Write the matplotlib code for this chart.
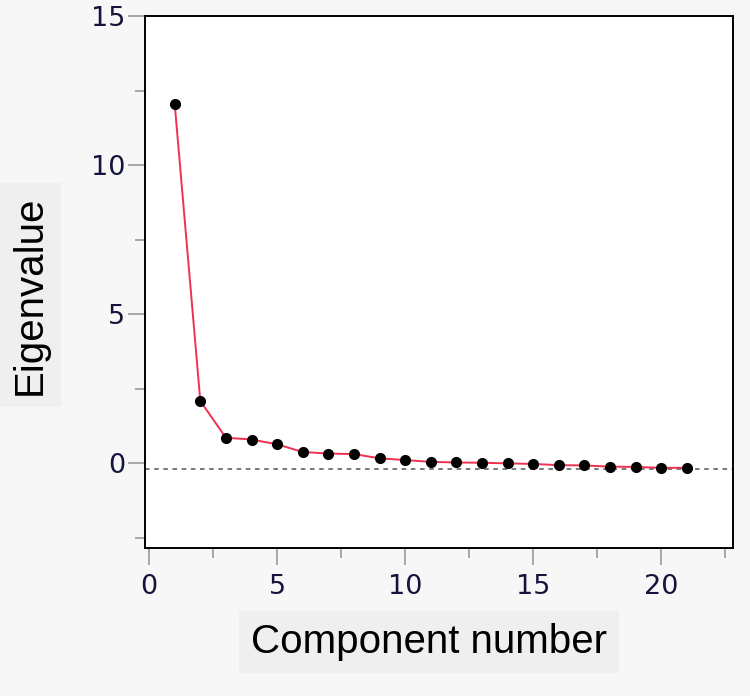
import matplotlib
matplotlib.use("Agg")
import matplotlib.pyplot as plt
from matplotlib.ticker import MultipleLocator

# scree plot values
component = list(range(1, 22))
eigenvalue = [12.05, 2.08, 0.85, 0.79, 0.63, 0.37, 0.32, 0.30, 0.16, 0.10,
              0.04, 0.02, 0.01, -0.01, -0.03, -0.07, -0.08, -0.12, -0.13, -0.16, -0.16]
ref_level = -0.2

BG = "#f7f7f7"
LABEL_BG = "#efefef"
TICK_TXT = "#14143c"

fig = plt.figure(figsize=(7.5, 6.96), dpi=100, facecolor=BG)
ax = fig.add_axes([145 / 750, 1 - 548 / 696, 588 / 750, 532 / 696])
ax.set_facecolor("white")

ax.axhline(ref_level, color="#555555", linestyle=(0, (3, 3)), linewidth=1.1, zorder=1)
ax.plot(component, eigenvalue, color="#f03050", linewidth=1.4, zorder=2)
ax.plot(component, eigenvalue, "o", color="black", markersize=7, zorder=3)

ax.set_xlim(-0.16, 22.8)
ax.set_ylim(-2.85, 15)
ax.xaxis.set_major_locator(MultipleLocator(5))
ax.xaxis.set_minor_locator(MultipleLocator(2.5))
ax.yaxis.set_major_locator(MultipleLocator(5))
ax.yaxis.set_minor_locator(MultipleLocator(2.5))

for s in ax.spines.values():
    s.set_color("black")
    s.set_linewidth(1.4)

ax.tick_params(which="major", direction="out", length=12, width=1.2, color="#999999",
               labelsize=19.5, labelcolor=TICK_TXT)
ax.tick_params(which="minor", direction="out", length=7, width=1.2, color="#999999")
ax.tick_params(axis="y", which="major", pad=2)
ax.tick_params(axis="x", which="major", pad=7)

fig.text(429 / 750, 1 - 642 / 696, "Component number", family="Liberation Sans",
         fontsize=29, ha="center", va="center",
         bbox=dict(boxstyle="square,pad=0.3", facecolor=LABEL_BG, edgecolor="none"))
fig.text(30 / 750, 1 - 295 / 696, "Eigenvalue", family="Liberation Sans",
         fontsize=29, ha="center", va="center", rotation=90,
         bbox=dict(boxstyle="square,pad=0.3", facecolor=LABEL_BG, edgecolor="none"))

fig.savefig("out.png", dpi=100, facecolor=BG)
